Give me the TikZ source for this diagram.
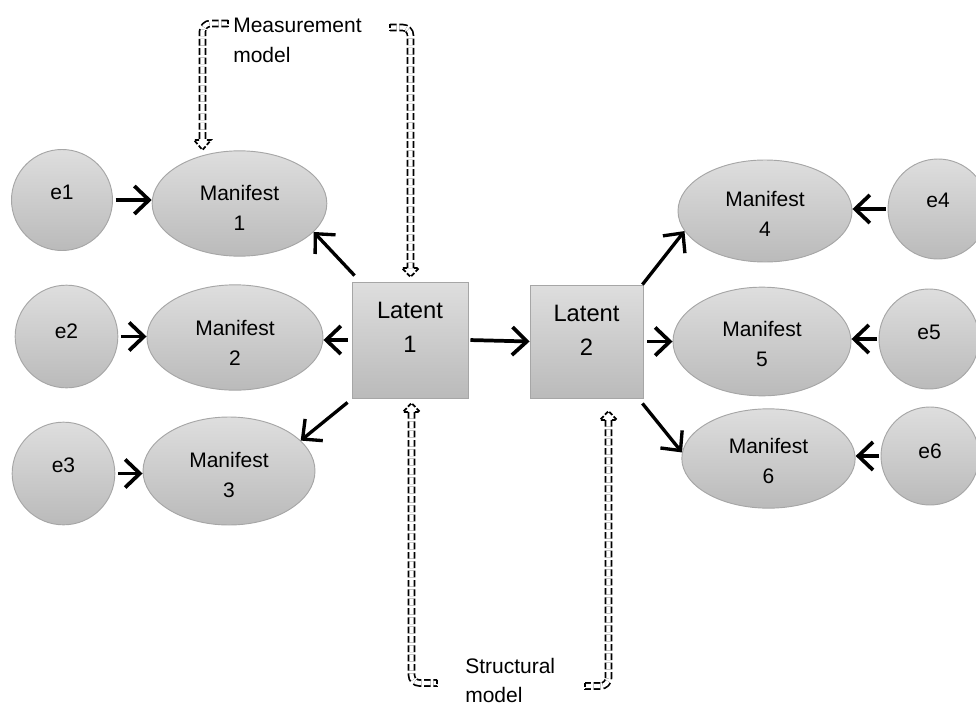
\documentclass[tikz,border=0pt]{standalone}
\usepackage{fontspec}
\setmainfont{Liberation Sans}
\usetikzlibrary{arrows.meta,shapes.geometric,calc}
\begin{document}
\begin{tikzpicture}[x=0.75pt,y=-0.75pt,
  shapefill/.style={draw=black!35, line width=0.7pt, top color=black!13, bottom color=black!27},
  errc/.style={circle, shapefill, inner sep=0pt, minimum size=#1},
  man/.style={ellipse, shapefill, inner sep=0pt},
  latbox/.style={rectangle, shapefill, inner sep=0pt, minimum size=#1},
  lbl/.style={font=\fontsize{15.75}{22.5}\selectfont, align=center, text=black, inner sep=0pt},
  biglbl/.style={font=\fontsize{17.8}{25.5}\selectfont, align=center, text=black, inner sep=0pt},
  harr/.style={line width=2.8pt, -{Straight Barb[length=11pt,width=21pt]}},
  darr/.style={line width=2.5pt, -{Straight Barb[length=11pt,width=21pt]}},
  uturn/.style={draw=black, line width=1.3pt, dash pattern=on 5pt off 2pt,
                double=white, double distance=3.1pt, rounded corners=6pt},
  uhead/.style={draw=black, line width=1.3pt, dash pattern=on 3.2pt off 1.5pt}
]
\useasboundingbox (0,0) rectangle (976,707);
\clip (0,0) rectangle (976,707);

% error terms (left)
\node[errc=75.75pt, label={[lbl,yshift=5.5pt]center:e1}] (e1) at (62,200) {};
\node[errc=77pt,    label={[lbl,yshift=4pt]center:e2}]   (e2) at (66.5,336.5) {};
\node[errc=77pt,    label={[lbl,yshift=6.5pt]center:e3}] (e3) at (63.5,473.5) {};

% manifest variables (left)
\node[man, minimum width=131pt, minimum height=79pt,
      label={[lbl,yshift=-3pt]center:{Manifest\\1}}] (m1) at (239.5,203.5) {};
\node[man, minimum width=132pt, minimum height=79pt,
      label={[lbl,yshift=-4pt]center:{Manifest\\2}}] (m2) at (235,337.5) {};
\node[man, minimum width=129pt, minimum height=81pt,
      label={[lbl,yshift=-3pt]center:{Manifest\\3}}] (m3) at (229,471) {};

% latent variables
\node[latbox=87pt,   label={[biglbl,yshift=9.5pt]center:{Latent\\1}}] (lat1) at (410,340) {};
\node[latbox=84.7pt, label={[biglbl,yshift=8.5pt]center:{Latent\\2}}] (lat2) at (586.5,341.5) {};

% manifest variables (right)
\node[man, minimum width=130.5pt, minimum height=76.5pt,
      label={[lbl,yshift=-2pt]center:{Manifest\\4}}] (m4) at (765,211) {};
\node[man, minimum width=133.5pt, minimum height=81.5pt,
      label={[lbl,yshift=-2pt]center:{Manifest\\5}}] (m5) at (762,341.5) {};
\node[man, minimum width=130pt, minimum height=74.5pt,
      label={[lbl,yshift=-2pt]center:{Manifest\\6}}] (m6) at (768.5,458.5) {};

% error terms (right)
\node[errc=75pt,   label={[lbl,yshift=6.5pt]center:e4}] (e4) at (938,209) {};
\node[errc=75pt,   label={[lbl,yshift=5pt]center:e5}]   (e5) at (929,339) {};
\node[errc=73.5pt, label={[lbl,yshift=3.5pt]center:e6}] (e6) at (930,456) {};

% error -> manifest
\draw[harr, shorten <=2pt] (e1.east) -- (e1.east -| m1.west);
\draw[harr, shorten <=2pt] (e2.east) -- (e2.east -| m2.west);
\draw[harr, shorten <=2pt] (e3.east) -- (e3.east -| m3.west);
\draw[harr, shorten <=1pt] (e4.west) -- (e4.west -| m4.east);
\draw[harr, shorten <=1pt] (e5.west) -- (e5.west -| m5.east);
\draw[harr, shorten <=1pt] (e6.west) -- (e6.west -| m6.east);

% latent -> manifest, latent -> latent
\draw[darr] ([shift={(3,-6)}]lat1.north west) -- (m1.-21);
\draw[harr, shorten <=3pt] (lat1.west) -- (lat1.west -| m2.east);
\draw[darr] ([shift={(-4,4)}]lat1.south west) -- (m3.23);
\draw[harr, shorten <=1.5pt] (lat1.east) -- (lat2.west);
\draw[darr] ([shift={(-1,0)}]lat2.north east) -- (m4.194);
\draw[harr, shorten <=3pt] (lat2.east) -- (lat2.east -| m5.west);
\draw[darr] ([shift={(-1,5)}]lat2.south east) -- (m6.176);

% measurement model callouts
\coordinate (mmL-tail) at (228,23.5);
\coordinate (mmL-bend) at (202.5,23.5);
\coordinate (mmL-base) at (202.5,140);
\coordinate (mmL-tip)  at (202.5,150);
\draw[uturn] (mmL-tail) -- (mmL-bend) -- (mmL-base);
\draw[uhead] ($(mmL-tail)+(0,-3.3)$) -- ($(mmL-tail)+(0,3.3)$);
\draw[uhead] ($(mmL-base)+(-3.3,0)$) -- ($(mmL-base)+(-8.5,0)$) -- (mmL-tip)
             -- ($(mmL-base)+(8.5,0)$) -- ($(mmL-base)+(3.3,0)$);

\coordinate (mmR-tail) at (390,27.5);
\coordinate (mmR-bend) at (410.5,27.5);
\coordinate (mmR-base) at (410.5,268);
\coordinate (mmR-tip)  at (410.5,277);
\draw[uturn] (mmR-tail) -- (mmR-bend) -- (mmR-base);
\draw[uhead] ($(mmR-tail)+(0,-3.3)$) -- ($(mmR-tail)+(0,3.3)$);
\draw[uhead] ($(mmR-base)+(-3.3,0)$) -- ($(mmR-base)+(-8.5,0)$) -- (mmR-tip)
             -- ($(mmR-base)+(8.5,0)$) -- ($(mmR-base)+(3.3,0)$);

\node[lbl, align=left, anchor=north west] (mm-text) at (233,17.5) {Measurement\\model};

% structural model callouts
\coordinate (smL-tip)  at (411.5,403);
\coordinate (smL-base) at (411.5,412);
\coordinate (smL-bend) at (411.5,683);
\coordinate (smL-tail) at (437,683);
\draw[uturn] (smL-base) -- (smL-bend) -- (smL-tail);
\draw[uhead] ($(smL-tail)+(0,-3.3)$) -- ($(smL-tail)+(0,3.3)$);
\draw[uhead] ($(smL-base)+(-3.3,0)$) -- ($(smL-base)+(-8.5,0)$) -- (smL-tip)
             -- ($(smL-base)+(8.5,0)$) -- ($(smL-base)+(3.3,0)$);

\coordinate (smR-tip)  at (608.5,411);
\coordinate (smR-base) at (608.5,420);
\coordinate (smR-bend) at (608.5,686);
\coordinate (smR-tail) at (585,686);
\draw[uturn] (smR-base) -- (smR-bend) -- (smR-tail);
\draw[uhead] ($(smR-tail)+(0,-3.3)$) -- ($(smR-tail)+(0,3.3)$);
\draw[uhead] ($(smR-base)+(-3.3,0)$) -- ($(smR-base)+(-8.5,0)$) -- (smR-tip)
             -- ($(smR-base)+(8.5,0)$) -- ($(smR-base)+(3.3,0)$);

\node[lbl, align=left, anchor=north west,
      font=\fontsize{15.75}{21.5}\selectfont] (sm-text) at (465,658) {Structural\\model};
\end{tikzpicture}
\end{document}
